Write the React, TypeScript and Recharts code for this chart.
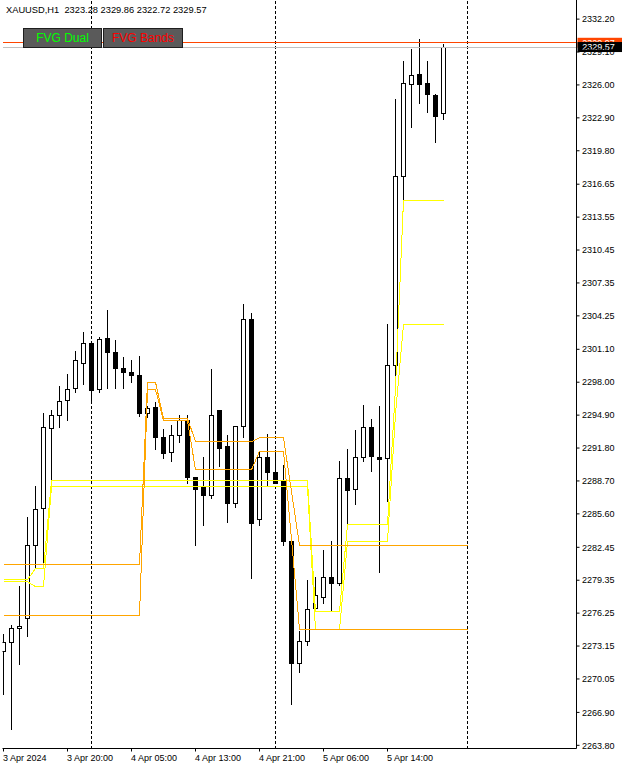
import React from "react";
import { ComposedChart, Bar, Line, XAxis, YAxis, ReferenceLine } from "recharts";

const FONT = "'Liberation Sans', Arial, sans-serif";

// XAUUSD H1, one bar per hour from 3 Apr 12:00 to 5 Apr 21:00
const opens = [
  2272.6, 2273.5, 2274.8, 2275.7, 2282.6, 2286.1, 2293.6, 2294.9, 2296.3, 2297.4,
  2299.8, 2301.6, 2297.3, 2302.1, 2300.8, 2299.3, 2298.9, 2298.6, 2295.05, 2295.6,
  2292.8, 2291.4, 2293.0, 2294.4, 2289.0, 2288.05, 2287.3, 2295.3, 2291.9, 2286.6,
  2293.8, 2303.9, 2285.1, 2290.9, 2289.5, 2288.7, 2282.95, 2271.55, 2273.6, 2276.7,
  2277.7, 2279.6, 2279.0, 2288.9, 2287.9, 2290.9, 2293.7, 2290.9, 2290.8, 2299.6,
  2317.35, 2326.05, 2327.0, 2326.1, 2325.05, 2323.28,
];
const highs = [
  2274.3, 2275.1, 2278.8, 2285.3, 2288.2, 2295.1, 2295.4, 2297.6, 2298.75, 2300.9,
  2302.7, 2301.7, 2302.3, 2304.8, 2302.0, 2300.4, 2300.1, 2300.5, 2295.75, 2296.1,
  2293.6, 2294.0, 2294.9, 2294.95, 2289.1, 2291.0, 2299.2, 2295.4, 2293.0, 2293.9,
  2305.35, 2304.5, 2291.4, 2293.15, 2291.6, 2290.2, 2283.3, 2274.6, 2279.35, 2279.65,
  2282.2, 2283.0, 2290.55, 2291.7, 2293.5, 2295.9, 2294.5, 2295.75, 2303.45, 2324.65,
  2328.25, 2329.35, 2330.3, 2328.25, 2325.1, 2329.86,
];
const lows = [
  2268.5, 2265.2, 2271.4, 2274.0, 2280.5, 2281.0, 2288.8, 2293.7, 2294.3, 2297.0,
  2297.75, 2296.15, 2297.0, 2297.4, 2297.4, 2297.4, 2297.9, 2294.7, 2294.6, 2291.6,
  2290.8, 2290.5, 2292.3, 2288.45, 2282.6, 2284.5, 2287.0, 2290.0, 2284.75, 2286.15,
  2292.7, 2279.5, 2284.5, 2288.1, 2288.45, 2282.55, 2267.6, 2270.6, 2273.2, 2276.5,
  2277.1, 2276.4, 2278.8, 2284.5, 2286.4, 2290.5, 2289.55, 2280.0, 2286.7, 2296.9,
  2315.15, 2321.95, 2324.25, 2323.4, 2320.5, 2322.72,
];
const closes = [
  2273.5, 2274.8, 2275.0, 2282.6, 2286.0, 2293.7, 2294.9, 2296.2, 2297.3, 2300.0,
  2301.6, 2297.2, 2302.0, 2300.8, 2299.25, 2298.9, 2298.6, 2295.05, 2295.5, 2292.75,
  2291.3, 2293.0, 2294.4, 2289.0, 2287.9, 2287.3, 2294.9, 2291.8, 2286.6, 2293.8,
  2303.9, 2284.7, 2290.9, 2289.45, 2288.5, 2282.95, 2271.55, 2273.6, 2276.6, 2277.9,
  2279.6, 2279.0, 2288.9, 2287.8, 2290.9, 2293.7, 2291.0, 2290.7, 2299.6, 2317.4,
  2326.1, 2326.9, 2326.05, 2325.1, 2323.0, 2329.57,
];

// FVG Dual (yellow) upper / lower
const dualUpper = [
  2279.4, 2279.4, 2279.4, 2279.4, 2280.45, 2280.45, 2288.75, 2288.75, 2288.75, 2288.75,
  2288.75, 2288.75, 2288.75, 2288.75, 2288.75, 2288.75, 2288.75, 2288.75, 2288.75, 2288.75,
  2288.75, 2288.75, 2288.75, 2288.75, 2288.75, 2288.75, 2288.75, 2288.75, 2288.75, 2288.75,
  2288.75, 2288.75, 2288.75, 2288.75, 2288.75, 2288.75, 2288.75, 2288.75, 2288.75, 2276.4,
  2276.4, 2276.4, 2276.4, 2284.6, 2284.6, 2284.6, 2284.6, 2284.6, 2284.6, 2297.5,
  2315.15, 2315.15, 2315.15, 2315.15, 2315.15, 2315.15,
];
const dualLower = [
  2279.2, 2279.2, 2279.2, 2279.2, 2278.75, 2278.75, 2288.15, 2288.15, 2288.15, 2288.15,
  2288.15, 2288.15, 2288.15, 2288.15, 2288.15, 2288.15, 2288.15, 2288.15, 2288.15, 2288.15,
  2288.15, 2288.15, 2288.15, 2288.15, 2288.15, 2288.15, 2288.15, 2288.15, 2288.15, 2288.15,
  2288.15, 2288.15, 2288.15, 2288.15, 2288.15, 2288.15, 2288.15, 2288.15, 2288.15, 2274.7,
  2274.7, 2274.7, 2274.7, 2283.0, 2283.0, 2283.0, 2283.0, 2283.0, 2283.0, 2295.0,
  2303.45, 2303.45, 2303.45, 2303.45, 2303.45, 2303.45,
];

// FVG Bands (orange) upper / lower, drawn 3 bars past the last candle
const bandUpper = [
  2280.8, 2280.8, 2280.8, 2280.8, 2280.8, 2280.8, 2280.8, 2280.8, 2280.8, 2280.8,
  2280.8, 2280.8, 2280.8, 2280.8, 2280.8, 2280.8, 2280.8, 2280.8, 2298.0, 2298.0,
  2294.6, 2294.6, 2294.6, 2294.6, 2292.4, 2292.4, 2292.4, 2292.4, 2292.4, 2292.4,
  2292.4, 2292.4, 2292.75, 2292.75, 2292.75, 2292.75, 2287.7, 2282.65, 2282.65, 2282.65,
  2282.65, 2282.65, 2282.65, 2282.65, 2282.65, 2282.65, 2282.65, 2282.65, 2282.65, 2282.65,
  2282.65, 2282.65, 2282.65, 2282.65, 2282.65, 2282.65, 2282.65, 2282.65, 2282.65,
];
const bandLower = [
  2276.0, 2276.0, 2276.0, 2276.0, 2276.0, 2276.0, 2276.0, 2276.0, 2276.0, 2276.0,
  2276.0, 2276.0, 2276.0, 2276.0, 2276.0, 2276.0, 2276.0, 2276.0, 2297.3, 2297.3,
  2294.4, 2294.4, 2294.4, 2294.4, 2289.75, 2289.75, 2289.75, 2289.75, 2289.75, 2289.75,
  2289.75, 2289.75, 2291.5, 2291.5, 2291.5, 2291.5, 2283.2, 2274.75, 2274.75, 2274.75,
  2274.75, 2274.75, 2274.75, 2274.75, 2274.75, 2274.75, 2274.75, 2274.75, 2274.75, 2274.75,
  2274.75, 2274.75, 2274.75, 2274.75, 2274.75, 2274.75, 2274.75, 2274.75, 2274.75,
];

const bid = 2329.57;
const ask = 2329.97;
const daySeparators = [11, 34, 58];
const timeTicks = [0, 8, 16, 24, 32, 40, 48];
const timeLabels = ["3 Apr 2024", "3 Apr 20:00", "4 Apr 05:00", "4 Apr 13:00", "4 Apr 21:00", "5 Apr 06:00", "5 Apr 14:00"];
const priceTicks = [
  2332.2, 2329.1, 2326.0, 2322.9, 2319.8, 2316.65, 2313.55, 2310.45, 2307.35, 2304.25, 2301.1, 2298.0,
  2294.9, 2291.8, 2288.7, 2285.6, 2282.45, 2279.35, 2276.25, 2273.15, 2270.05, 2266.9, 2263.8,
];

const data = bandUpper.map((_, i) => ({
  i,
  range: i < opens.length ? [lows[i], highs[i]] : null,
  open: opens[i],
  close: closes[i],
  dualUpper: dualUpper[i] ?? null,
  dualLower: dualLower[i] ?? null,
  bandUpper: bandUpper[i],
  bandLower: bandLower[i],
}));

function Candle(props: any) {
  const { x, y, width, height, payload } = props;
  if (!payload || !payload.range) return null;
  const [lo, hi] = payload.range;
  const cx = x + width / 2;
  const toY = (v: number) => y + ((hi - v) / (hi - lo)) * height;
  const yo = toY(payload.open);
  const yc = toY(payload.close);
  const top = Math.min(yo, yc);
  const h = Math.max(Math.abs(yc - yo), 1);
  const bull = payload.close >= payload.open;
  return (
    <g shapeRendering="crispEdges">
      <line x1={cx} x2={cx} y1={y} y2={y + height} stroke="#000" strokeWidth={1} />
      <rect x={cx - 2} y={top} width={4} height={h} fill={bull ? "#fff" : "#000"} stroke="#000" strokeWidth={1} />
    </g>
  );
}

function TimeTick({ x, y, payload }: any) {
  const k = timeTicks.indexOf(payload.value);
  return (
    <text x={x - 0.5} y={y + 7.5} fontSize={9} fontFamily={FONT} fill="#000">
      {timeLabels[k]}
    </text>
  );
}

const priceTag = (fill: string, text: string) => (props: any) => {
  const vb = props.viewBox;
  const x0 = vb.x + vb.width + 1;
  return (
    <g>
      <rect x={x0} y={vb.y - 5} width={45} height={10} fill={fill} />
      <text x={x0 + 4.8} y={vb.y + 3.3} fontSize={9} fontFamily={FONT} fill="#fff">
        {text}
      </text>
    </g>
  );
};

const buttonStyle: React.CSSProperties = {
  position: "absolute",
  top: 28,
  height: 18,
  background: "#5a5a5a",
  border: "1px solid #1e1e1e",
  fontFamily: FONT,
  fontSize: 12,
  lineHeight: "18px",
  textAlign: "center",
};

export default function App() {
  return (
    <div style={{ position: "absolute", left: 0, top: 0, width: 622, height: 769, background: "#fff", overflow: "hidden" }}>
      <ComposedChart width={622} height={769} data={data} margin={{ top: 0, right: 0, bottom: 0, left: 2.5 }}>
        <XAxis
          dataKey="i"
          type="number"
          domain={[-0.125, 71.625]}
          allowDataOverflow
          ticks={timeTicks}
          interval={0}
          height={20.5}
          tickSize={3}
          tickMargin={2}
          axisLine={{ stroke: "#000" }}
          tickLine={{ stroke: "#000" }}
          tick={<TimeTick />}
        />
        <YAxis
          orientation="right"
          type="number"
          domain={[2263.5, 2334.0]}
          allowDataOverflow
          ticks={priceTicks}
          interval={0}
          width={45.5}
          tickSize={3}
          tickMargin={2.5}
          axisLine={{ stroke: "#000" }}
          tickLine={{ stroke: "#000" }}
          tickFormatter={(v: number) => v.toFixed(2)}
          tick={{ fontSize: 9, fill: "#000", fontFamily: FONT }}
        />
        <YAxis yAxisId="frame" orientation="left" width={0} tick={false} axisLine={{ stroke: "#000" }} />
        {daySeparators.map((d) => (
          <ReferenceLine key={d} x={d} stroke="#000" strokeDasharray="3 2" shapeRendering="crispEdges" />
        ))}
        <ReferenceLine y={ask} stroke="#ff4500" shapeRendering="crispEdges" label={priceTag("#ff4500", ask.toFixed(2))} />
        <ReferenceLine y={bid} stroke="#c0c0c0" shapeRendering="crispEdges" label={priceTag("#000", bid.toFixed(2))} />
        <Bar dataKey="range" barSize={5} shape={<Candle />} isAnimationActive={false} />
        <Line dataKey="dualUpper" stroke="#ffff00" strokeWidth={1} shapeRendering="crispEdges" dot={false} activeDot={false} isAnimationActive={false} />
        <Line dataKey="dualLower" stroke="#ffff00" strokeWidth={1} shapeRendering="crispEdges" dot={false} activeDot={false} isAnimationActive={false} />
        <Line dataKey="bandUpper" stroke="#ffa500" strokeWidth={1} shapeRendering="crispEdges" dot={false} activeDot={false} isAnimationActive={false} />
        <Line dataKey="bandLower" stroke="#ffa500" strokeWidth={1} shapeRendering="crispEdges" dot={false} activeDot={false} isAnimationActive={false} />
      </ComposedChart>
      <div style={{ position: "absolute", left: 6, top: 6, fontFamily: FONT, fontSize: 9.3, lineHeight: 1, whiteSpace: "pre", color: "#000" }}>
        {`XAUUSD,H1  ${opens[55].toFixed(2)} ${highs[55].toFixed(2)} ${lows[55].toFixed(2)} ${closes[55].toFixed(2)}`}
      </div>
      <div style={{ ...buttonStyle, left: 23, width: 77, color: "#00ff00" }}>FVG Dual</div>
      <div style={{ ...buttonStyle, left: 103, width: 78, color: "#ff0000" }}>FVG Bands</div>
    </div>
  );
}
